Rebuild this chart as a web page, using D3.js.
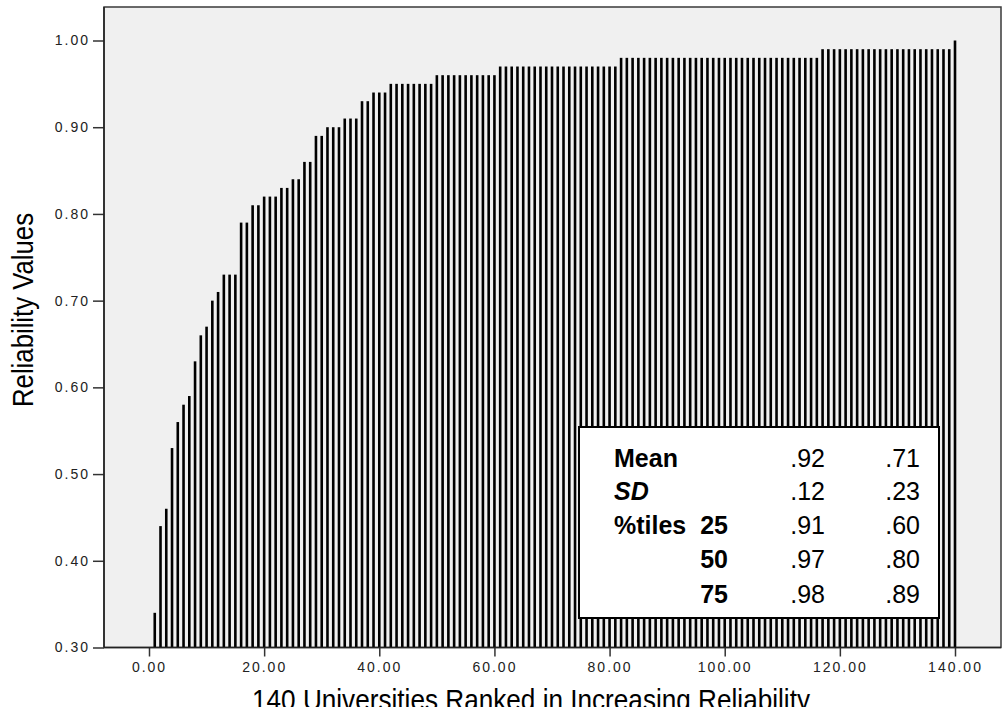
<!DOCTYPE html>
<html>
<head>
<meta charset="utf-8">
<script src="https://cdn.jsdelivr.net/npm/d3@7"></script>
<style>
  body { margin: 0; background: #fff; }
  svg { display: block; }
</style>
</head>
<body>
<svg id="chart" width="1005" height="715"></svg>
<script>
// reliability values, ranked in increasing order (140 universities)
const reliability = [
  0.34, 0.44, 0.46, 0.53, 0.56, 0.58, 0.59, 0.63, 0.66, 0.67,
  0.70, 0.71, 0.73, 0.73, 0.73, 0.79, 0.79, 0.81, 0.81, 0.82,
  0.82, 0.82, 0.83, 0.83, 0.84, 0.84, 0.86, 0.86, 0.89, 0.89,
  0.90, 0.90, 0.90, 0.91, 0.91, 0.91, 0.93, 0.93, 0.94, 0.94,
  0.94, 0.95, 0.95, 0.95, 0.95, 0.95, 0.95, 0.95, 0.95, 0.96,
  0.96, 0.96, 0.96, 0.96, 0.96, 0.96, 0.96, 0.96, 0.96, 0.96,
  0.97, 0.97, 0.97, 0.97, 0.97, 0.97, 0.97, 0.97, 0.97, 0.97,
  0.97, 0.97, 0.97, 0.97, 0.97, 0.97, 0.97, 0.97, 0.97, 0.97,
  0.97, 0.98, 0.98, 0.98, 0.98, 0.98, 0.98, 0.98, 0.98, 0.98,
  0.98, 0.98, 0.98, 0.98, 0.98, 0.98, 0.98, 0.98, 0.98, 0.98,
  0.98, 0.98, 0.98, 0.98, 0.98, 0.98, 0.98, 0.98, 0.98, 0.98,
  0.98, 0.98, 0.98, 0.98, 0.98, 0.98, 0.99, 0.99, 0.99, 0.99,
  0.99, 0.99, 0.99, 0.99, 0.99, 0.99, 0.99, 0.99, 0.99, 0.99,
  0.99, 0.99, 0.99, 0.99, 0.99, 0.99, 0.99, 0.99, 0.99, 1.00
];
const ranks = reliability.map((v, i) => i + 1);

const xTicks = [0, 20, 40, 60, 80, 100, 120, 140];
const yTicks = [0.3, 0.4, 0.5, 0.6, 0.7, 0.8, 0.9, 1.0];

// summary table
const statLabels = ["Mean", "SD", "%tiles", "", ""];
const statPct = ["", "", "25", "50", "75"];
const col1 = [".92", ".12", ".91", ".97", ".98"];
const col2 = [".71", ".23", ".60", ".80", ".89"];

const svg = d3.select("#chart");

// plot frame
const frame = { left: 104, top: 7, right: 1001, bottom: 647.5 };

const xScale = d3.scaleLinear().domain([0, 140]).range([149, 955]);
const yScale = d3.scaleLinear().domain([0.3, 1.0]).range([647.5, 40.5]);

svg.append("rect")
    .attr("x", frame.left)
    .attr("y", frame.top)
    .attr("width", frame.right - frame.left)
    .attr("height", frame.bottom - frame.top)
    .attr("fill", "#f0f0f0")
    .attr("stroke", "#3a3a3a")
    .attr("stroke-width", 1.5);

// bars
const bw = 2.6;
svg.append("g").selectAll("rect")
    .data(reliability)
    .enter()
    .append("rect")
    .attr("x", (d, i) => xScale(ranks[i]) - bw / 2)
    .attr("y", d => yScale(d))
    .attr("width", bw)
    .attr("height", d => yScale(0.3) - yScale(d))
    .attr("fill", "#000");

// axes
const yAxis = svg.append("g")
    .attr("transform", `translate(${frame.left},0)`)
    .call(d3.axisLeft(yScale).tickValues(yTicks).tickFormat(d3.format(".2f"))
        .tickSize(11).tickSizeOuter(0).tickPadding(3));

const xAxis = svg.append("g")
    .attr("transform", `translate(0,${frame.bottom})`)
    .call(d3.axisBottom(xScale).tickValues(xTicks).tickFormat(d3.format(".2f"))
        .tickSize(9).tickSizeOuter(0).tickPadding(6));

[yAxis, xAxis].forEach(ax => {
    ax.select(".domain").remove();
    ax.selectAll(".tick line").attr("stroke", "#333").attr("stroke-width", 1.5);
    ax.selectAll(".tick text")
        .attr("fill", "#222")
        .style("font-family", "'Liberation Sans', Arial, sans-serif")
        .style("font-size", "14px")
        .style("letter-spacing", "2px");
});

// axis lines on top of the bars
svg.append("line")
    .attr("x1", frame.left).attr("x2", frame.left)
    .attr("y1", frame.top).attr("y2", frame.bottom)
    .attr("stroke", "#222").attr("stroke-width", 1.5);
svg.append("line")
    .attr("x1", frame.left).attr("x2", frame.right)
    .attr("y1", frame.bottom).attr("y2", frame.bottom)
    .attr("stroke", "#222").attr("stroke-width", 1.5);

// axis titles (the x title is cut off at the bottom in the original)
svg.append("clipPath")
    .attr("id", "title-clip")
    .append("rect")
    .attr("x", 0).attr("y", 660).attr("width", 1005).attr("height", 47);

svg.append("text")
    .attr("x", 531)
    .attr("y", 710)
    .attr("clip-path", "url(#title-clip)")
    .attr("text-anchor", "middle")
    .attr("textLength", 558)
    .attr("lengthAdjust", "spacingAndGlyphs")
    .style("font-family", "'Liberation Sans', Arial, sans-serif")
    .style("font-size", "30px")
    .text("140 Universities Ranked in Increasing Reliability");

svg.append("text")
    .attr("transform", "translate(33,310) rotate(-90)")
    .attr("text-anchor", "middle")
    .attr("textLength", 194)
    .attr("lengthAdjust", "spacingAndGlyphs")
    .style("font-family", "'Liberation Sans', Arial, sans-serif")
    .style("font-size", "30px")
    .text("Reliability Values");

// summary box
svg.append("rect")
    .attr("x", 579)
    .attr("y", 427)
    .attr("width", 360)
    .attr("height", 191)
    .attr("fill", "#fff")
    .attr("stroke", "#000")
    .attr("stroke-width", 2);

const rowY = [467, 500, 534, 568, 603];
const box = svg.append("g")
    .style("font-family", "'Liberation Sans', Arial, sans-serif")
    .style("font-size", "25px");

box.selectAll(".lab").data(statLabels).enter().append("text")
    .attr("x", 614).attr("y", (d, i) => rowY[i])
    .style("font-weight", "bold")
    .style("font-style", (d, i) => i === 1 ? "italic" : "normal")
    .text(d => d);

box.selectAll(".pct").data(statPct).enter().append("text")
    .attr("x", 728).attr("y", (d, i) => rowY[i])
    .attr("text-anchor", "end")
    .style("font-weight", "bold")
    .text(d => d);

box.selectAll(".c1").data(col1).enter().append("text")
    .attr("x", 825).attr("y", (d, i) => rowY[i])
    .attr("text-anchor", "end")
    .text(d => d);

box.selectAll(".c2").data(col2).enter().append("text")
    .attr("x", 920).attr("y", (d, i) => rowY[i])
    .attr("text-anchor", "end")
    .text(d => d);
</script>
</body>
</html>
